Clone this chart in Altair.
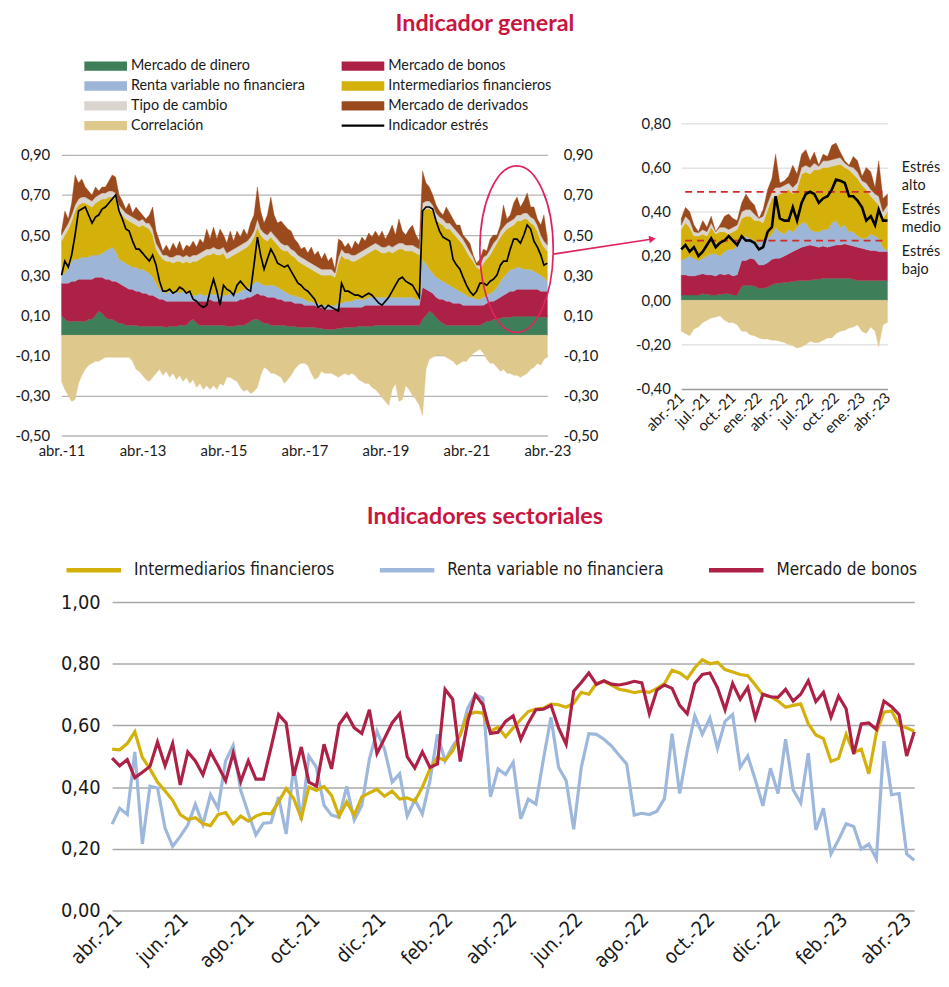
import altair as alt
import pandas as pd

W, H = 941, 971
F_TOP = "Lato, 'Open Sans', sans-serif"
F_BOT = "'Liberation Sans Narrow', 'DejaVu Sans Condensed', 'Roboto Condensed', sans-serif"
TXT = "#1a1a1a"
ROJO_T = "#c8163f"
ROSA = "#e0245e"

# ---------------- Indicador general (mensual, abr-11 a abr-23) ----------------
dinero = [
    0.10, 0.08, 0.07, 0.07, 0.07, 0.07, 0.07, 0.07, 0.08, 0.08,
    0.10, 0.12, 0.11, 0.09, 0.08, 0.08, 0.07, 0.06, 0.06, 0.05,
    0.05, 0.05, 0.05, 0.045, 0.045, 0.045, 0.045, 0.045, 0.045, 0.045,
    0.045, 0.04, 0.045, 0.045, 0.045, 0.05, 0.05, 0.05, 0.07, 0.08,
    0.06, 0.05, 0.05, 0.05, 0.05, 0.05, 0.05, 0.05, 0.05, 0.045,
    0.045, 0.045, 0.05, 0.05, 0.05, 0.06, 0.07, 0.08, 0.08, 0.07,
    0.06, 0.06, 0.05, 0.05, 0.05, 0.05, 0.05, 0.045, 0.045, 0.045,
    0.04, 0.04, 0.04, 0.04, 0.04, 0.04, 0.035, 0.035, 0.03, 0.03,
    0.03, 0.03, 0.035, 0.035, 0.04, 0.04, 0.04, 0.04, 0.045, 0.045,
    0.045, 0.045, 0.045, 0.05, 0.05, 0.05, 0.05, 0.05, 0.05, 0.05,
    0.05, 0.05, 0.05, 0.05, 0.05, 0.05, 0.05, 0.08, 0.10, 0.12,
    0.11, 0.09, 0.07, 0.06, 0.05, 0.05, 0.05, 0.05, 0.05, 0.05,
    0.05, 0.05, 0.05, 0.05, 0.05, 0.06, 0.07, 0.07, 0.08, 0.08,
    0.085, 0.09, 0.09, 0.09, 0.095, 0.095, 0.095, 0.095, 0.095, 0.095,
    0.095, 0.095, 0.09, 0.09, 0.09]
bonos = [
    0.16, 0.18, 0.19, 0.20, 0.20, 0.21, 0.21, 0.21, 0.20, 0.20,
    0.19, 0.17, 0.18, 0.19, 0.20, 0.19, 0.20, 0.20, 0.19, 0.19,
    0.18, 0.18, 0.17, 0.175, 0.165, 0.165, 0.155, 0.155, 0.145, 0.135,
    0.135, 0.13, 0.125, 0.125, 0.125, 0.12, 0.12, 0.12, 0.10, 0.09,
    0.11, 0.12, 0.12, 0.12, 0.13, 0.12, 0.12, 0.12, 0.12, 0.125,
    0.125, 0.125, 0.12, 0.13, 0.13, 0.13, 0.12, 0.12, 0.13, 0.13,
    0.14, 0.13, 0.14, 0.14, 0.13, 0.13, 0.12, 0.125, 0.125, 0.115,
    0.12, 0.12, 0.11, 0.11, 0.11, 0.11, 0.105, 0.105, 0.10, 0.10,
    0.10, 0.10, 0.105, 0.105, 0.10, 0.10, 0.10, 0.10, 0.095, 0.095,
    0.105, 0.105, 0.105, 0.10, 0.10, 0.10, 0.10, 0.10, 0.10, 0.10,
    0.10, 0.10, 0.10, 0.10, 0.10, 0.10, 0.10, 0.16, 0.13, 0.10,
    0.10, 0.10, 0.11, 0.12, 0.12, 0.12, 0.11, 0.11, 0.11, 0.10,
    0.10, 0.10, 0.10, 0.10, 0.10, 0.09, 0.09, 0.10, 0.09, 0.10,
    0.105, 0.11, 0.12, 0.13, 0.125, 0.135, 0.135, 0.135, 0.135, 0.135,
    0.135, 0.135, 0.13, 0.13, 0.13]
renta = [
    0.04, 0.05, 0.08, 0.10, 0.11, 0.10, 0.11, 0.11, 0.11, 0.12,
    0.11, 0.11, 0.12, 0.14, 0.15, 0.17, 0.15, 0.12, 0.12, 0.12,
    0.12, 0.11, 0.12, 0.11, 0.12, 0.11, 0.11, 0.09, 0.07, 0.05,
    0.04, 0.04, 0.05, 0.04, 0.05, 0.04, 0.05, 0.04, 0.04, 0.03,
    0.03, 0.04, 0.03, 0.03, 0.03, 0.03, 0.04, 0.03, 0.03, 0.03,
    0.04, 0.04, 0.04, 0.04, 0.05, 0.04, 0.06, 0.06, 0.06, 0.06,
    0.05, 0.06, 0.06, 0.06, 0.06, 0.05, 0.05, 0.04, 0.03, 0.04,
    0.03, 0.03, 0.03, 0.02, 0.02, 0.01, 0.02, 0.01, 0.02, 0.02,
    0.02, 0.02, 0.02, 0.02, 0.03, 0.03, 0.03, 0.04, 0.04, 0.04,
    0.03, 0.04, 0.04, 0.04, 0.04, 0.04, 0.04, 0.04, 0.04, 0.04,
    0.04, 0.04, 0.04, 0.04, 0.04, 0.03, 0.03, 0.14, 0.13, 0.11,
    0.10, 0.10, 0.10, 0.09, 0.09, 0.08, 0.08, 0.07, 0.06, 0.06,
    0.05, 0.04, 0.04, 0.03, 0.03, 0.04, 0.04, 0.04, 0.05, 0.06,
    0.08, 0.09, 0.10, 0.11, 0.11, 0.11, 0.11, 0.10, 0.10, 0.10,
    0.09, 0.08, 0.08, 0.07, 0.05]
intermed = [
    0.17, 0.19, 0.19, 0.20, 0.24, 0.27, 0.27, 0.27, 0.26, 0.24,
    0.26, 0.27, 0.27, 0.26, 0.26, 0.25, 0.26, 0.24, 0.23, 0.22,
    0.22, 0.22, 0.21, 0.21, 0.22, 0.22, 0.22, 0.21, 0.17, 0.17,
    0.16, 0.16, 0.15, 0.15, 0.15, 0.16, 0.14, 0.16, 0.15, 0.17,
    0.17, 0.17, 0.19, 0.20, 0.19, 0.21, 0.19, 0.20, 0.21, 0.18,
    0.18, 0.19, 0.20, 0.20, 0.20, 0.21, 0.21, 0.23, 0.27, 0.24,
    0.23, 0.22, 0.24, 0.22, 0.21, 0.20, 0.20, 0.21, 0.20, 0.19,
    0.18, 0.17, 0.17, 0.17, 0.16, 0.16, 0.15, 0.15, 0.15, 0.15,
    0.15, 0.14, 0.20, 0.24, 0.21, 0.21, 0.20, 0.19, 0.20, 0.21,
    0.22, 0.22, 0.23, 0.24, 0.23, 0.22, 0.22, 0.23, 0.22, 0.23,
    0.24, 0.24, 0.23, 0.23, 0.23, 0.23, 0.22, 0.24, 0.27, 0.30,
    0.31, 0.29, 0.28, 0.28, 0.27, 0.28, 0.27, 0.26, 0.25, 0.24,
    0.22, 0.20, 0.18, 0.16, 0.15, 0.17, 0.18, 0.19, 0.21, 0.22,
    0.22, 0.22, 0.22, 0.21, 0.22, 0.23, 0.23, 0.25, 0.25, 0.23,
    0.23, 0.21, 0.17, 0.15, 0.15]
tipo = [
    0.03, 0.03, 0.03, 0.03, 0.03, 0.03, 0.03, 0.03, 0.03, 0.03,
    0.03, 0.03, 0.03, 0.03, 0.03, 0.03, 0.03, 0.03, 0.03, 0.03,
    0.03, 0.03, 0.03, 0.03, 0.03, 0.02, 0.03, 0.03, 0.03, 0.03,
    0.02, 0.03, 0.02, 0.03, 0.03, 0.03, 0.03, 0.03, 0.03, 0.03,
    0.03, 0.03, 0.03, 0.03, 0.03, 0.03, 0.03, 0.03, 0.03, 0.03,
    0.03, 0.03, 0.03, 0.03, 0.03, 0.03, 0.03, 0.03, 0.04, 0.03,
    0.03, 0.03, 0.03, 0.03, 0.03, 0.03, 0.03, 0.03, 0.03, 0.03,
    0.03, 0.03, 0.03, 0.03, 0.03, 0.03, 0.03, 0.03, 0.03, 0.03,
    0.03, 0.02, 0.03, 0.03, 0.03, 0.03, 0.03, 0.03, 0.03, 0.03,
    0.03, 0.03, 0.03, 0.03, 0.03, 0.03, 0.03, 0.03, 0.03, 0.03,
    0.03, 0.03, 0.03, 0.03, 0.03, 0.03, 0.03, 0.04, 0.04, 0.04,
    0.03, 0.03, 0.03, 0.03, 0.03, 0.03, 0.03, 0.03, 0.03, 0.03,
    0.03, 0.03, 0.02, 0.01, 0.02, 0.03, 0.02, 0.03, 0.03, 0.02,
    0.03, 0.03, 0.03, 0.03, 0.03, 0.03, 0.03, 0.03, 0.03, 0.03,
    0.03, 0.03, 0.03, 0.03, 0.03]
deriv = [
    0.02, 0.09, 0.02, 0.06, 0.15, 0.08, 0.09, 0.05, 0.04, 0.03,
    0.05, 0.02, 0.03, 0.03, 0.05, 0.08, 0.08, 0.05, 0.04, 0.02,
    0.06, 0.02, 0.06, 0.05, 0.02, 0.02, 0.04, 0.11, 0.06, 0.04,
    0.02, 0.05, 0.03, 0.07, 0.03, 0.07, 0.03, 0.05, 0.05, 0.07,
    0.04, 0.07, 0.04, 0.10, 0.05, 0.10, 0.05, 0.10, 0.06, 0.05,
    0.10, 0.04, 0.08, 0.04, 0.07, 0.03, 0.07, 0.08, 0.16, 0.09,
    0.05, 0.10, 0.17, 0.10, 0.08, 0.11, 0.10, 0.08, 0.09, 0.06,
    0.06, 0.04, 0.06, 0.04, 0.08, 0.05, 0.08, 0.05, 0.08, 0.04,
    0.06, 0.02, 0.09, 0.04, 0.03, 0.05, 0.03, 0.07, 0.04, 0.07,
    0.04, 0.07, 0.04, 0.06, 0.04, 0.08, 0.04, 0.06, 0.11, 0.05,
    0.12, 0.06, 0.05, 0.08, 0.10, 0.06, 0.04, 0.16, 0.09, 0.07,
    0.05, 0.04, 0.03, 0.02, 0.08, 0.05, 0.04, 0.03, 0.05, 0.02,
    0.03, 0.04, 0.01, 0.01, 0.03, 0.04, 0.02, 0.05, 0.04, 0.02,
    0.03, 0.11, 0.02, 0.03, 0.08, 0.09, 0.04, 0.06, 0.10, 0.05,
    0.06, 0.03, 0.05, 0.13, 0.03]
correl = [
    -0.23, -0.27, -0.30, -0.33, -0.32, -0.24, -0.20, -0.17, -0.15, -0.14,
    -0.13, -0.13, -0.12, -0.11, -0.11, -0.11, -0.11, -0.11, -0.11, -0.11,
    -0.11, -0.13, -0.17, -0.18, -0.20, -0.22, -0.23, -0.21, -0.19, -0.17,
    -0.20, -0.18, -0.21, -0.19, -0.22, -0.20, -0.23, -0.21, -0.24, -0.22,
    -0.26, -0.24, -0.27, -0.25, -0.27, -0.25, -0.27, -0.24, -0.25, -0.21,
    -0.21, -0.22, -0.23, -0.26, -0.28, -0.27, -0.29, -0.28, -0.26, -0.20,
    -0.16, -0.17, -0.19, -0.19, -0.20, -0.21, -0.24, -0.22, -0.20, -0.17,
    -0.15, -0.14, -0.14, -0.15, -0.19, -0.22, -0.21, -0.18, -0.19, -0.19,
    -0.19, -0.20, -0.21, -0.20, -0.19, -0.20, -0.19, -0.20, -0.22, -0.23,
    -0.24, -0.24, -0.26, -0.27, -0.29, -0.31, -0.33, -0.35, -0.27, -0.24,
    -0.33, -0.32, -0.25, -0.27, -0.30, -0.32, -0.35, -0.40, -0.17, -0.12,
    -0.11, -0.10, -0.10, -0.10, -0.11, -0.12, -0.13, -0.15, -0.14, -0.13,
    -0.13, -0.11, -0.09, -0.08, -0.07, -0.09, -0.12, -0.14, -0.14, -0.16,
    -0.18, -0.17, -0.19, -0.19, -0.20, -0.20, -0.21, -0.20, -0.19, -0.17,
    -0.16, -0.14, -0.15, -0.12, -0.11]
indicador = [
    0.30, 0.37, 0.34, 0.40, 0.50, 0.62, 0.63, 0.64, 0.60, 0.56,
    0.59, 0.60, 0.63, 0.64, 0.66, 0.68, 0.70, 0.62, 0.58, 0.53,
    0.52, 0.47, 0.43, 0.43, 0.41, 0.39, 0.37, 0.40, 0.35, 0.27,
    0.22, 0.22, 0.23, 0.21, 0.22, 0.24, 0.23, 0.21, 0.22, 0.18,
    0.17, 0.15, 0.14, 0.15, 0.22, 0.28, 0.22, 0.15, 0.25, 0.23,
    0.22, 0.20, 0.25, 0.27, 0.25, 0.23, 0.22, 0.35, 0.49, 0.40,
    0.33, 0.38, 0.43, 0.40, 0.36, 0.35, 0.34, 0.35, 0.32, 0.29,
    0.26, 0.25, 0.23, 0.22, 0.20, 0.18, 0.14, 0.15, 0.13, 0.15,
    0.14, 0.13, 0.12, 0.26, 0.22, 0.22, 0.21, 0.20, 0.20, 0.19,
    0.20, 0.21, 0.20, 0.18, 0.16, 0.15, 0.17, 0.19, 0.22, 0.25,
    0.28, 0.29, 0.27, 0.26, 0.25, 0.22, 0.19, 0.62, 0.64, 0.64,
    0.63, 0.57, 0.52, 0.49, 0.48, 0.47, 0.38, 0.35, 0.33, 0.29,
    0.25, 0.22, 0.20, 0.22, 0.26, 0.26, 0.25, 0.27, 0.28, 0.30,
    0.35, 0.37, 0.37, 0.43, 0.48, 0.48, 0.46, 0.50, 0.55, 0.53,
    0.47, 0.44, 0.40, 0.35, 0.36]

# ---------------- Detalle abr-21 a abr-23 (quincenal) ----------------
z_dinero = [0.024, 0.024, 0.024, 0.024, 0.024, 0.03, 0.027, 0.024, 0.024, 0.027, 0.03, 0.03, 0.024, 0.024,
            0.065, 0.069, 0.067, 0.065, 0.055, 0.055, 0.06, 0.07, 0.076, 0.078, 0.08, 0.083, 0.085, 0.088,
            0.09, 0.09, 0.09, 0.095, 0.095, 0.10, 0.10, 0.10, 0.10, 0.10, 0.10, 0.10, 0.095, 0.09,
            0.09, 0.09, 0.09, 0.09, 0.09, 0.09, 0.09]
z_bonos = [0.091, 0.091, 0.086, 0.086, 0.091, 0.09, 0.088, 0.091, 0.086, 0.093, 0.085, 0.09, 0.086, 0.091,
           0.115, 0.111, 0.123, 0.12, 0.105, 0.105, 0.11, 0.115, 0.114, 0.112, 0.12, 0.127, 0.135, 0.142,
           0.15, 0.155, 0.16, 0.15, 0.145, 0.145, 0.14, 0.145, 0.15, 0.15, 0.155, 0.15, 0.15, 0.15,
           0.145, 0.14, 0.135, 0.135, 0.13, 0.13, 0.13]
z_renta = [0.065, 0.075, 0.09, 0.08, 0.065, 0.07, 0.085, 0.095, 0.10, 0.08, 0.105, 0.11, 0.12, 0.135,
           0.10, 0.11, 0.09, 0.085, 0.10, 0.11, 0.11, 0.115, 0.14, 0.12, 0.10, 0.11, 0.09, 0.10,
           0.11, 0.105, 0.07, 0.065, 0.07, 0.075, 0.08, 0.105, 0.11, 0.08, 0.085, 0.06, 0.065, 0.05,
           0.045, 0.05, 0.075, 0.065, 0.06, 0.02, 0.005]
z_intermed = [0.14, 0.16, 0.13, 0.10, 0.11, 0.11, 0.09, 0.12, 0.09, 0.11, 0.09, 0.07, 0.08, 0.07,
              0.09, 0.09, 0.10, 0.09, 0.10, 0.08, 0.13, 0.16, 0.14, 0.17, 0.19, 0.18, 0.17, 0.17,
              0.22, 0.23, 0.25, 0.28, 0.28, 0.28, 0.28, 0.255, 0.25, 0.285, 0.26, 0.28, 0.26, 0.26,
              0.24, 0.22, 0.17, 0.16, 0.15, 0.13, 0.175]
z_tipo = [0.02, 0.03, 0.03, 0.02, 0.015, 0.02, 0.02, 0.02, 0.01, 0.02, 0.02, 0.02, 0.02, 0.02,
          0.03, 0.03, 0.03, 0.03, 0.01, 0.03, 0.03, 0.03, 0.04, 0.03, 0.03, 0.03, 0.03, 0.03,
          0.03, 0.03, 0.03, 0.03, 0.015, 0.03, 0.03, 0.03, 0.03, 0.03, 0.02, 0.015, 0.03, 0.03,
          0.02, 0.03, 0.03, 0.03, 0.04, 0.03, 0.03]
z_deriv = [0.03, 0.04, 0.04, 0.03, 0.005, 0.04, 0.02, 0.03, 0.0, 0.01, 0.05, 0.07, 0.04, 0.02,
           0.04, 0.07, 0.04, 0.04, 0.0, 0.03, 0.06, 0.06, 0.15, 0.02, 0.02, 0.03, 0.10, 0.04,
           0.06, 0.07, 0.03, 0.05, 0.005, 0.03, 0.02, 0.065, 0.07, 0.025, 0.01, 0.005, 0.05, 0.05,
           0.02, 0.07, 0.08, 0.03, 0.16, 0.06, 0.05]
z_correl = [-0.14, -0.15, -0.16, -0.13, -0.12, -0.10, -0.09, -0.08, -0.075, -0.07, -0.09, -0.10, -0.10, -0.11,
            -0.14, -0.14, -0.155, -0.16, -0.17, -0.175, -0.175, -0.18, -0.18, -0.185, -0.19, -0.20, -0.205, -0.215,
            -0.21, -0.20, -0.185, -0.19, -0.19, -0.18, -0.17, -0.17, -0.15, -0.14, -0.135, -0.125, -0.12, -0.11,
            -0.14, -0.15, -0.12, -0.14, -0.21, -0.11, -0.10]
z_indicador = [0.23, 0.25, 0.22, 0.24, 0.20, 0.22, 0.25, 0.28, 0.24, 0.26, 0.27, 0.29, 0.27, 0.25,
               0.29, 0.27, 0.27, 0.26, 0.23, 0.24, 0.31, 0.33, 0.47, 0.37, 0.36, 0.36, 0.42, 0.36,
               0.44, 0.48, 0.49, 0.48, 0.44, 0.46, 0.47, 0.50, 0.545, 0.54, 0.53, 0.47, 0.47, 0.45,
               0.42, 0.36, 0.38, 0.34, 0.41, 0.36, 0.36]
umbrales = [0.49, 0.27]
textos_estres = ["Estrés\nalto", "Estrés\nmedio", "Estrés\nbajo"]
pos_estres = [0.598, 0.406, 0.218]

# ---------------- Indicadores sectoriales (semanal) ----------------
sec_intermed = [
    0.523, 0.521, 0.541, 0.579, 0.496, 0.459, 0.416, 0.387, 0.357, 0.311,
    0.295, 0.301, 0.281, 0.275, 0.311, 0.317, 0.281, 0.306, 0.29, 0.306,
    0.315, 0.313, 0.352, 0.395, 0.363, 0.299, 0.40, 0.389, 0.402, 0.373,
    0.306, 0.352, 0.309, 0.368, 0.381, 0.393, 0.37, 0.387, 0.361, 0.365,
    0.354, 0.40, 0.459, 0.496, 0.487, 0.517, 0.571, 0.635, 0.643, 0.64,
    0.581, 0.594, 0.563, 0.592, 0.619, 0.645, 0.653, 0.656, 0.669, 0.667,
    0.659, 0.672, 0.707, 0.701, 0.736, 0.743, 0.731, 0.717, 0.713, 0.706,
    0.711, 0.707, 0.72, 0.736, 0.779, 0.77, 0.752, 0.787, 0.813, 0.80,
    0.805, 0.781, 0.773, 0.765, 0.761, 0.731, 0.699, 0.693, 0.679, 0.659,
    0.665, 0.67, 0.605, 0.569, 0.557, 0.483, 0.493, 0.571, 0.512, 0.523,
    0.443, 0.576, 0.643, 0.647, 0.601, 0.592, 0.581]
sec_renta = [
    0.28, 0.331, 0.311, 0.514, 0.216, 0.403, 0.397, 0.267, 0.208, 0.24,
    0.277, 0.344, 0.279, 0.375, 0.331, 0.485, 0.535, 0.389, 0.315, 0.245,
    0.283, 0.285, 0.368, 0.248, 0.469, 0.293, 0.501, 0.464, 0.341, 0.309,
    0.302, 0.402, 0.293, 0.341, 0.491, 0.581, 0.523, 0.416, 0.443, 0.306,
    0.359, 0.313, 0.421, 0.571, 0.485, 0.533, 0.567, 0.656, 0.701, 0.688,
    0.368, 0.459, 0.441, 0.48, 0.297, 0.361, 0.345, 0.491, 0.626, 0.464,
    0.421, 0.263, 0.464, 0.573, 0.571, 0.555, 0.533, 0.503, 0.475, 0.309,
    0.315, 0.311, 0.322, 0.363, 0.573, 0.379, 0.517, 0.631, 0.571, 0.624,
    0.526, 0.613, 0.635, 0.464, 0.501, 0.423, 0.339, 0.461, 0.379, 0.555,
    0.391, 0.349, 0.51, 0.261, 0.331, 0.183, 0.229, 0.281, 0.272, 0.199,
    0.215, 0.167, 0.549, 0.375, 0.379, 0.183, 0.163]
sec_bonos = [
    0.494, 0.469, 0.489, 0.43, 0.448, 0.467, 0.546, 0.469, 0.541, 0.407,
    0.514, 0.485, 0.44, 0.514, 0.469, 0.421, 0.51, 0.418, 0.485, 0.426,
    0.426, 0.528, 0.635, 0.608, 0.437, 0.53, 0.416, 0.403, 0.539, 0.459,
    0.603, 0.637, 0.592, 0.574, 0.651, 0.509, 0.558, 0.608, 0.638, 0.498,
    0.462, 0.514, 0.464, 0.475, 0.717, 0.685, 0.483, 0.613, 0.699, 0.667,
    0.574, 0.578, 0.613, 0.631, 0.555, 0.608, 0.651, 0.653, 0.665, 0.592,
    0.539, 0.711, 0.739, 0.77, 0.733, 0.745, 0.734, 0.731, 0.736, 0.743,
    0.738, 0.638, 0.715, 0.731, 0.72, 0.665, 0.638, 0.736, 0.765, 0.77,
    0.722, 0.651, 0.736, 0.685, 0.723, 0.624, 0.701, 0.693, 0.691, 0.717,
    0.679, 0.701, 0.745, 0.677, 0.707, 0.627, 0.695, 0.654, 0.507, 0.605,
    0.608, 0.587, 0.679, 0.661, 0.635, 0.501, 0.579]

SERIES = ["Mercado de dinero", "Mercado de bonos", "Renta variable no financiera",
          "Intermediarios financieros", "Tipo de cambio", "Mercado de derivados", "Correlación"]
COLORES = ["#3e7f5a", "#ae2146", "#9db6d8", "#d4b10a", "#d9d4ce", "#9b4a1d", "#dfc88c"]
SECT = ["Intermediarios financieros", "Renta variable no financiera", "Mercado de bonos"]
SECT_COL = ["#d4b10a", "#9db8dc", "#ae2146"]

# ---------------- tablas ----------------
def iso(d):
    return pd.Timestamp(d).strftime("%Y-%m-%dT00:00:00")

f_main = [iso(d) for d in pd.date_range("2011-04-01", periods=145, freq="MS")]
f_zoom = []
for d in pd.date_range("2021-04-01", periods=24, freq="MS"):
    f_zoom += [iso(d), iso(d + pd.Timedelta(days=15))]
f_zoom.append(iso("2023-04-01"))
f_sec = [iso(d) for d in pd.date_range("2021-03-26", periods=107, freq="7D")]


def apilado(fechas, arrays):
    filas = []
    for j, (nombre, arr) in enumerate(zip(SERIES, arrays)):
        assert len(arr) == len(fechas), (nombre, len(arr))
        for f, v in zip(fechas, arr):
            filas.append({"fecha": f, "serie": nombre, "valor": v, "orden": j})
    return pd.DataFrame(filas)


df_main = apilado(f_main, [dinero, bonos, renta, intermed, tipo, deriv, correl])
df_main_ind = pd.DataFrame({"fecha": f_main, "ind": indicador})
df_zoom = apilado(f_zoom, [z_dinero, z_bonos, z_renta, z_intermed, z_tipo, z_deriv, z_correl])
df_zoom_ind = pd.DataFrame({"fecha": f_zoom, "ind": z_indicador})
for a in (sec_intermed, sec_renta, sec_bonos):
    assert len(a) == len(f_sec)
df_sec = pd.DataFrame({"fecha": f_sec, "inter": sec_intermed, "renta": sec_renta, "bonos": sec_bonos})


def dt(y, m, d=1):
    return alt.DateTime(year=y, month=m, date=d)


LBL_FECHA = ("['ene','feb','mar','abr','may','jun','jul','ago','sep','oct','nov','dic']"
             "[month(datum.value)] + '.-' + timeFormat(datum.value, '%y')")
LBL_NUM = "(datum.value < 0 ? '-' : '') + replace(format(abs(datum.value), '.2f'), '.', ',')"


def ax(**kw):
    base = dict(domain=False, ticks=False, title=None, labelFlush=False, labelOverlap=False, labelColor=TXT)
    base.update(kw)
    return alt.Axis(**base)


# ---------------- escalas ----------------
xs_m = alt.Scale(domain=[dt(2011, 4), dt(2023, 4)], range=[54, 544], nice=False)
ys_m = alt.Scale(domain=[-0.5, 0.9], range=[427, 144], nice=False, zero=False)
xs_z = alt.Scale(domain=[dt(2021, 4), dt(2023, 4)], range=[679, 887], nice=False)
ys_z = alt.Scale(domain=[-0.4, 0.8], range=[380, 112], nice=False, zero=False)
xs_s = alt.Scale(domain=[dt(2021, 3, 26), dt(2023, 4, 7)], range=[105, 914], nice=False)
ys_s = alt.Scale(domain=[0, 1], range=[906, 595], nice=False)
col_scale = alt.Scale(domain=SERIES, range=COLORES)

# ---------------- ejes (capas propias) ----------------
V_M = [-0.5, -0.3, -0.1, 0.1, 0.3, 0.5, 0.7, 0.9]
eje_m = alt.Chart(df_main_ind).mark_point(opacity=0).encode(
    x=alt.X("fecha:T", scale=xs_m, axis=ax(orient="bottom", offset=427 - H,
            values=[dt(y, 4) for y in range(2011, 2024, 2)], labelExpr=LBL_FECHA,
            grid=False, labelPadding=8, labelFont=F_TOP, labelFontSize=15)),
    y=alt.Y("ind:Q", scale=ys_m, axis=ax(orient="left", offset=-54, values=V_M, labelExpr=LBL_NUM,
            grid=True, gridColor="#b4b4b4", gridWidth=1.3, labelPadding=12,
            labelFont=F_TOP, labelFontSize=15)))
eje_m_der = alt.Chart(df_main_ind).mark_point(opacity=0).encode(
    x=alt.X("fecha:T", scale=xs_m, axis=None),
    y=alt.Y("ind:Q", scale=ys_m, axis=ax(orient="right", offset=544 - W, values=V_M, labelExpr=LBL_NUM,
            grid=False, labelPadding=16, labelFont=F_TOP, labelFontSize=15)))
eje_z = alt.Chart(df_zoom_ind).mark_point(opacity=0).encode(
    x=alt.X("fecha:T", scale=xs_z, axis=ax(orient="bottom", offset=380 - H,
            values=[dt(2021, 4), dt(2021, 7), dt(2021, 10), dt(2022, 1), dt(2022, 4),
                    dt(2022, 7), dt(2022, 10), dt(2023, 1), dt(2023, 4)],
            labelExpr=LBL_FECHA, grid=False, labelAngle=315, labelAlign="right",
            labelBaseline="middle", labelPadding=6, labelFont=F_TOP, labelFontSize=15)),
    y=alt.Y("ind:Q", scale=ys_z, axis=ax(orient="left", offset=-679,
            values=[-0.4, -0.2, 0, 0.2, 0.4, 0.6, 0.8], labelExpr=LBL_NUM, grid=True,
            gridColor={"condition": {"test": "datum.value < -0.3", "value": "#9a9a9a"}, "value": "#e4e4e4"},
            gridWidth=1.5, labelPadding=11, labelFont=F_TOP, labelFontSize=15)))
s_vals = [dt(2021, 4), dt(2021, 6), dt(2021, 8), dt(2021, 10), dt(2021, 12), dt(2022, 2), dt(2022, 4),
          dt(2022, 6), dt(2022, 8), dt(2022, 10), dt(2022, 12), dt(2023, 2), dt(2023, 4)]
eje_s = alt.Chart(df_sec).mark_point(opacity=0).encode(
    x=alt.X("fecha:T", scale=xs_s, axis=ax(orient="bottom", offset=906 - H, values=s_vals,
            labelExpr=LBL_FECHA, grid=False, labelAngle=315, labelAlign="right",
            labelBaseline="middle", labelPadding=6, labelFont=F_BOT, labelFontSize=20)),
    y=alt.Y("renta:Q", scale=ys_s, axis=ax(orient="left", offset=-105,
            values=[0, 0.2, 0.4, 0.6, 0.8, 1.0], labelExpr=LBL_NUM, grid=True,
            gridColor="#a8a8a8", gridWidth=1.6, labelPadding=12, labelFont=F_BOT, labelFontSize=20)))

# ---------------- gráfico principal ----------------
m_area = alt.Chart(df_main).mark_area(interpolate="linear", strokeWidth=0.4).encode(
    x=alt.X("fecha:T", scale=xs_m, axis=None),
    y=alt.Y("valor:Q", stack="zero", scale=ys_m, axis=None),
    color=alt.Color("serie:N", scale=col_scale, legend=None),
    stroke=alt.Stroke("serie:N", scale=col_scale, legend=None),
    order=alt.Order("orden:Q"),
)
m_line = alt.Chart(df_main_ind).mark_line(color="black", strokeWidth=1.7).encode(
    x=alt.X("fecha:T", scale=xs_m, axis=None), y=alt.Y("ind:Q", scale=ys_m, axis=None))
ELIPSE = "M-0.44,0A0.44,1,0,1,1,0.44,0A0.44,1,0,1,1,-0.44,0Z"
m_elipse = alt.Chart(pd.DataFrame({"fecha": [iso("2022-06-27")], "v": [0.43]})).mark_point(
    shape=ELIPSE, size=28224, filled=False, stroke=ROSA, strokeWidth=1.7, opacity=1).encode(
    x=alt.X("fecha:T", scale=xs_m, axis=None), y=alt.Y("v:Q", scale=ys_m, axis=None))
df_flecha = pd.DataFrame({"f1": [iso("2023-05-24")], "f2": [iso("2025-11-04")], "v1": [0.405], "v2": [0.48]})
m_flecha = alt.Chart(df_flecha).mark_rule(color=ROSA, strokeWidth=1.6).encode(
    x=alt.X("f1:T", scale=xs_m, axis=None), x2="f2:T",
    y=alt.Y("v1:Q", scale=ys_m, axis=None), y2="v2:Q")
m_punta = alt.Chart(df_flecha).mark_point(shape="triangle-right", size=60, filled=True,
                                          color=ROSA, opacity=1, angle=351.5).encode(
    x=alt.X("f2:T", scale=xs_m, axis=None), y=alt.Y("v2:Q", scale=ys_m, axis=None))
principal = alt.layer(m_area, m_line, m_elipse, m_flecha, m_punta)

# ---------------- detalle ----------------
z_area = alt.Chart(df_zoom).mark_area(interpolate="linear", strokeWidth=0.4).encode(
    x=alt.X("fecha:T", scale=xs_z, axis=None),
    y=alt.Y("valor:Q", stack="zero", scale=ys_z, axis=None),
    color=alt.Color("serie:N", scale=col_scale, legend=None),
    stroke=alt.Stroke("serie:N", scale=col_scale, legend=None),
    order=alt.Order("orden:Q"),
)
df_umb = pd.DataFrame({"f1": [iso("2021-04-15")] * 2, "f2": [iso("2023-03-28")] * 2, "v": umbrales})
z_umb = alt.Chart(df_umb).mark_rule(color="#cf2a2a", strokeWidth=1.8, strokeDash=[7, 5]).encode(
    x=alt.X("f1:T", scale=xs_z, axis=None), x2="f2:T", y=alt.Y("v:Q", scale=ys_z, axis=None))
z_line = alt.Chart(df_zoom_ind).mark_line(color="black", strokeWidth=2.6).encode(
    x=alt.X("fecha:T", scale=xs_z, axis=None), y=alt.Y("ind:Q", scale=ys_z, axis=None))
df_txt = pd.DataFrame({"fecha": [iso("2023-05-22")] * 3, "v": pos_estres, "t": textos_estres})
z_txt = alt.Chart(df_txt).mark_text(align="left", baseline="middle", lineBreak="\n", lineHeight=18,
                                    font=F_TOP, fontSize=14.5, color=TXT).encode(
    x=alt.X("fecha:T", scale=xs_z, axis=None), y=alt.Y("v:Q", scale=ys_z, axis=None), text="t:N")
detalle = alt.layer(z_area, z_umb, z_line, z_txt)

# ---------------- sectoriales ----------------
base_s = alt.Chart(df_sec)
s_renta = base_s.mark_line(color=SECT_COL[1], strokeWidth=3.2).encode(
    x=alt.X("fecha:T", scale=xs_s, axis=None), y=alt.Y("renta:Q", scale=ys_s, axis=None))
s_inter = base_s.mark_line(color=SECT_COL[0], strokeWidth=3.2).encode(
    x=alt.X("fecha:T", scale=xs_s, axis=None), y=alt.Y("inter:Q", scale=ys_s, axis=None))
s_bonos = base_s.mark_line(color=SECT_COL[2], strokeWidth=3.2).encode(
    x=alt.X("fecha:T", scale=xs_s, axis=None), y=alt.Y("bonos:Q", scale=ys_s, axis=None))
sectoriales = alt.layer(s_renta, s_inter, s_bonos)

# ---------------- leyendas ----------------
leg1 = pd.DataFrame({
    "label": ["Mercado de dinero", "Mercado de bonos", "Renta variable no financiera",
              "Intermediarios financieros", "Tipo de cambio", "Mercado de derivados",
              "Correlación", "Indicador estrés"],
    "col": [0, 1, 0, 1, 0, 1, 0, 1],
    "row": [0, 0, 1, 1, 2, 2, 3, 3],
})
lx = alt.Scale(domain=[0, 1], range=[98.5, 358])
ly = alt.Scale(domain=[0, 3], range=[54.5, 114.5])
RECT = "M-1,-0.22L1,-0.22L1,0.22L-1,0.22Z"
l1_sw = alt.Chart(leg1).transform_filter("datum.label != 'Indicador estrés'").mark_point(
    shape=RECT, size=1849, filled=True, opacity=1, strokeWidth=0).encode(
    x=alt.X("col:Q", scale=lx, axis=None), y=alt.Y("row:Q", scale=ly, axis=None),
    color=alt.Color("label:N", scale=col_scale, legend=None))
l1_ln = alt.Chart(leg1).transform_filter("datum.label == 'Indicador estrés'").mark_point(
    shape="stroke", size=1849, filled=False, opacity=1, strokeWidth=2.2, color="black").encode(
    x=alt.X("col:Q", scale=lx, axis=None), y=alt.Y("row:Q", scale=ly, axis=None))
l1_tx = alt.Chart(leg1).mark_text(align="left", baseline="middle", dx=25.5, font=F_TOP,
                                  fontSize=14.5, color=TXT).encode(
    x=alt.X("col:Q", scale=lx, axis=None), y=alt.Y("row:Q", scale=ly, axis=None), text="label:N")
leyenda1 = alt.layer(l1_sw, l1_ln, l1_tx)

leg2 = pd.DataFrame({"label": SECT, "i": [0, 1, 2]})
lx2 = alt.Scale(domain=[0, 1, 2], range=[86.5, 402.5, 734.5])
l2_sw = alt.Chart(leg2).mark_point(shape="stroke", size=3025, filled=False, opacity=1, strokeWidth=4.5).encode(
    x=alt.X("i:Q", scale=lx2, axis=None), y=alt.value(563),
    stroke=alt.Stroke("label:N", scale=alt.Scale(domain=SECT, range=SECT_COL), legend=None))
l2_tx = alt.Chart(leg2).mark_text(align="left", baseline="middle", dx=40.5, font=F_BOT,
                                  fontSize=17.2, color=TXT).encode(
    x=alt.X("i:Q", scale=lx2, axis=None), y=alt.value(563), text="label:N")
leyenda2 = alt.layer(l2_sw, l2_tx)

# ---------------- títulos ----------------
tit1 = alt.Chart(pd.DataFrame({"t": ["Indicador general"]})).mark_text(
    font=F_TOP, fontSize=23.5, fontWeight="bold", color=ROJO_T, align="center", baseline="middle").encode(
    x=alt.value(481), y=alt.value(12.5), text="t:N")
tit2 = alt.Chart(pd.DataFrame({"t": ["Indicadores sectoriales"]})).mark_text(
    font=F_TOP, fontSize=23.5, fontWeight="bold", color=ROJO_T, align="center", baseline="middle").encode(
    x=alt.value(481), y=alt.value(509), text="t:N")

chart = alt.layer(
    eje_m, eje_m_der, eje_z, eje_s, principal, detalle, sectoriales, leyenda1, leyenda2, tit1, tit2
).resolve_scale(
    x="independent", y="independent", color="independent", stroke="independent"
).properties(
    width=W, height=H, autosize=alt.AutoSizeParams(type="none"), padding=0, background="white"
).configure_view(stroke=None)

chart.save("out.html", embed_options={"renderer": "svg", "actions": False})
